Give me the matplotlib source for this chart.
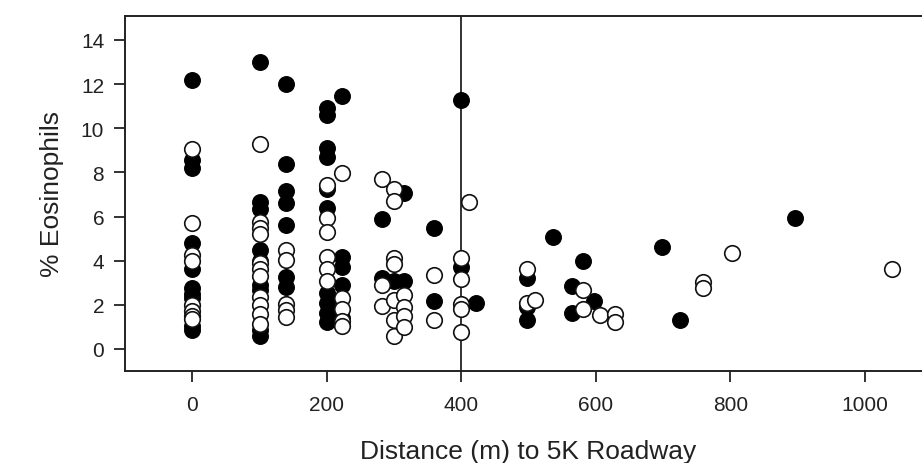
import matplotlib
matplotlib.use("Agg")
import matplotlib.pyplot as plt

plt.rcParams['font.family'] = ['Liberation Sans', 'DejaVu Sans']

# Filled circles
filled_x = [0, 0, 0, 0, 0, 0, 0, 0, 0, 0,
            100, 100, 100, 100, 100, 100, 100, 100, 100,
            140, 140, 140, 140, 140, 140, 140,
            200, 200, 200, 200, 200, 200, 200, 200, 200, 200,
            222, 222, 222, 222, 222,
            282, 282, 300, 315, 315, 360, 360, 400, 400, 422,
            498, 498, 498, 537, 564, 564, 581, 598, 698, 725, 897]
filled_y = [12.2, 8.55, 8.2, 4.8, 3.6, 2.75, 2.5, 2.3, 1.05, 0.85,
            13.0, 6.65, 6.35, 4.5, 4.0, 2.9, 2.65, 0.85, 0.6,
            12.0, 8.4, 7.15, 6.6, 5.6, 3.25, 2.8,
            10.9, 10.6, 9.1, 8.7, 7.25, 6.4, 2.55, 2.1, 1.65, 1.2,
            11.45, 4.15, 3.7, 2.9, 1.4,
            5.9, 3.2, 3.1, 7.05, 3.1, 5.5, 2.15, 11.3, 3.7, 2.1,
            3.2, 1.9, 1.3, 5.05, 2.85, 1.65, 4.0, 2.15, 4.6, 1.3, 5.95]

# Open circles
open_x = [0, 0, 0, 0, 0, 0, 0, 0,
          100, 100, 100, 100, 100, 100, 100, 100, 100, 100, 100,
          140, 140, 140, 140, 140,
          200, 200, 200, 200, 200, 200,
          222, 222, 222, 222, 222,
          282, 282, 282,
          300, 300, 300, 300, 300, 300, 300,
          315, 315, 315, 315,
          360, 360,
          400, 400, 400, 400, 400, 411,
          498, 498, 510, 581, 581, 606, 629, 629,
          759, 759, 803, 1041]
open_y = [9.05, 5.7, 4.25, 4.0, 2.0, 1.7, 1.5, 1.35,
          9.3, 5.75, 5.5, 5.2, 3.9, 3.6, 3.3, 2.35, 2.0, 1.6, 1.15,
          4.5, 4.05, 2.05, 1.75, 1.45,
          7.45, 5.95, 5.3, 4.15, 3.6, 3.1,
          7.95, 2.3, 1.8, 1.25, 1.05,
          7.7, 2.9, 1.95,
          7.25, 6.7, 4.1, 3.85, 2.2, 1.3, 0.6,
          2.45, 1.9, 1.5, 1.0,
          3.35, 1.3,
          4.1, 3.15, 2.05, 1.8, 0.75, 6.65,
          3.6, 2.1, 2.2, 2.65, 1.8, 1.55, 1.6, 1.2,
          3.05, 2.75, 4.35, 3.6]

x_ticks = [0, 200, 400, 600, 800, 1000]
y_ticks = [0, 2, 4, 6, 8, 10, 12, 14]
ref_line_x = 400

fig = plt.figure(figsize=(9.22, 4.64), dpi=100)
ax = fig.add_axes([125/922, 92/464, 807/922, 355.3/464])

ink = '#222222'
msize = 125
ax.scatter(filled_x, filled_y, s=msize, facecolor='black', edgecolor='black',
           linewidths=1.0, zorder=3)
ax.scatter(open_x, open_y, s=msize, facecolor='white', edgecolor='#111111',
           linewidths=1.2, zorder=4)
ax.axvline(ref_line_x, color='#333333', lw=1.4, zorder=2)

ax.set_xlim(-100, 1100)
ax.set_ylim(-1.0, 15.1)
ax.set_xticks(x_ticks)
ax.set_yticks(y_ticks)
ax.tick_params(axis='both', direction='out', length=8, width=1.3, color=ink,
               labelsize=15, labelcolor=ink)
ax.tick_params(axis='y', pad=7)
ax.tick_params(axis='x', pad=9)
for sp in ax.spines.values():
    sp.set_color(ink)
    sp.set_linewidth(1.4)
ax.spines['right'].set_visible(False)

ax.set_xlabel('Distance (m) to 5K Roadway', fontsize=19, color=ink, labelpad=18)
ax.set_ylabel('% Eosinophils', fontsize=19, color=ink, labelpad=12)

fig.savefig('out.png', dpi=100)
